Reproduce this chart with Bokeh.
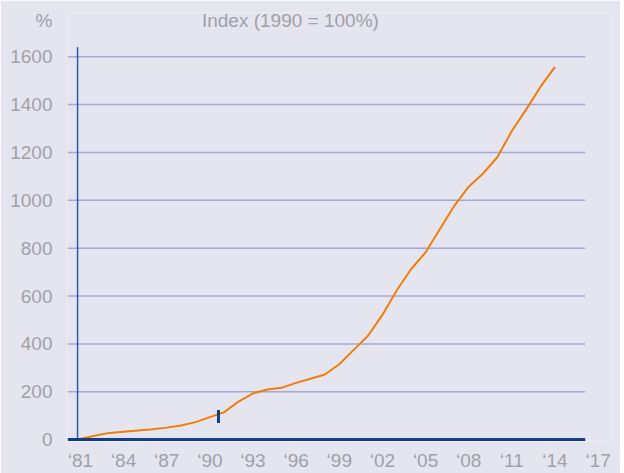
import math
from bokeh.plotting import figure
from bokeh.models import FixedTicker, Label, Range1d
from bokeh.embed import file_html
from bokeh.resources import INLINE

# ---- data -------------------------------------------------------------
years = list(range(1981, 2015))
index_values = [4, 16, 28, 33, 38, 43, 50, 59, 73, 94,
                115, 159, 193, 209, 217, 237, 254, 272, 315, 375,
                434, 521, 624, 713, 782, 880, 977, 1057, 1112, 1181,
                1290, 1380, 1475, 1558]
x_ticks = list(range(1981, 2018, 3))
x_tick_labels = ["\u2018" + str(y)[2:] for y in x_ticks]
y_ticks = list(range(0, 1601, 200))
break_year = 1990.6
break_value = 97
title_text = "Index (1990 = 100%)"
unit_text = "%"

# ---- layout constants ---------------------------------------------------
X0, X1 = 1980.1, 2018.0        # plotting frame (extended so the last tick label shows)
AXIS_END = 2016.1              # where grid lines / base line stop
Y_AXIS_AT = 1980.8             # position of the vertical axis line
Y0, Y1 = -8, 1785
Y_AXIS_TOP = 1640
HEADER_Y = 1750                # height of the header texts ("%" and title)
TITLE_X = 1995.6

BG = "#e5e5f0"
GRID = "#a4a8d4"
TXT = "#a0a0a8"
ORANGE = "#f07d0a"
DARKBLUE = "#123f8c"
MIDBLUE = "#2c5aa6"
FONT = "Liberation Sans"

W, H = 620, 473

p = figure(width=W, height=H, output_backend="svg", toolbar_location=None,
           x_range=Range1d(X0, X1), y_range=Range1d(Y0, Y1),
           min_border_left=67, min_border_right=8,
           min_border_top=12, min_border_bottom=31)
p.background_fill_color = BG
p.border_fill_color = BG
p.outline_line_color = None

# x axis (labels only; the base line is drawn below)
p.xaxis.ticker = FixedTicker(ticks=x_ticks)
p.xaxis.major_label_overrides = {t: l for t, l in zip(x_ticks, x_tick_labels)}
p.xaxis.axis_line_color = None
p.xaxis.major_tick_line_color = None
p.xaxis.minor_tick_line_color = None
p.xaxis.major_label_text_font = FONT
p.xaxis.major_label_text_font_size = "19px"
p.xaxis.major_label_text_color = TXT
p.xaxis.major_label_standoff = 2

# y axis, with the unit sign as the top label
p.yaxis.ticker = FixedTicker(ticks=y_ticks + [HEADER_Y])
p.yaxis.major_label_overrides = {HEADER_Y: unit_text}
p.yaxis.axis_line_color = None
p.yaxis.major_tick_line_color = None
p.yaxis.minor_tick_line_color = None
p.yaxis.major_label_text_font = FONT
p.yaxis.major_label_text_font_size = "19px"
p.yaxis.major_label_text_color = TXT
p.yaxis.major_label_standoff = 9

p.xgrid.grid_line_color = None
p.ygrid.grid_line_color = None

# horizontal grid lines
grid_vals = y_ticks[1:]
p.segment(x0=[X0] * len(grid_vals), y0=grid_vals,
          x1=[AXIS_END] * len(grid_vals), y1=grid_vals,
          line_color=GRID, line_width=1.5)

# vertical axis line
p.segment(x0=[Y_AXIS_AT], y0=[0], x1=[Y_AXIS_AT], y1=[Y_AXIS_TOP],
          line_color=MIDBLUE, line_width=1.5)

# series
p.line(years, index_values, line_color=ORANGE, line_width=2)

# base line
p.segment(x0=[X0], y0=[0], x1=[AXIS_END], y1=[0],
          line_color=DARKBLUE, line_width=3)

# break marker
p.scatter([break_year], [break_value], marker="dash", angle=math.pi / 2,
          size=13, line_color=DARKBLUE, line_width=3)

# header title
p.add_layout(Label(x=TITLE_X, y=HEADER_Y, text=title_text, text_font=FONT,
                   text_font_size="19px", text_color=TXT,
                   text_align="center", text_baseline="middle"))

open("out.html", "w").write(file_html(p, INLINE))
